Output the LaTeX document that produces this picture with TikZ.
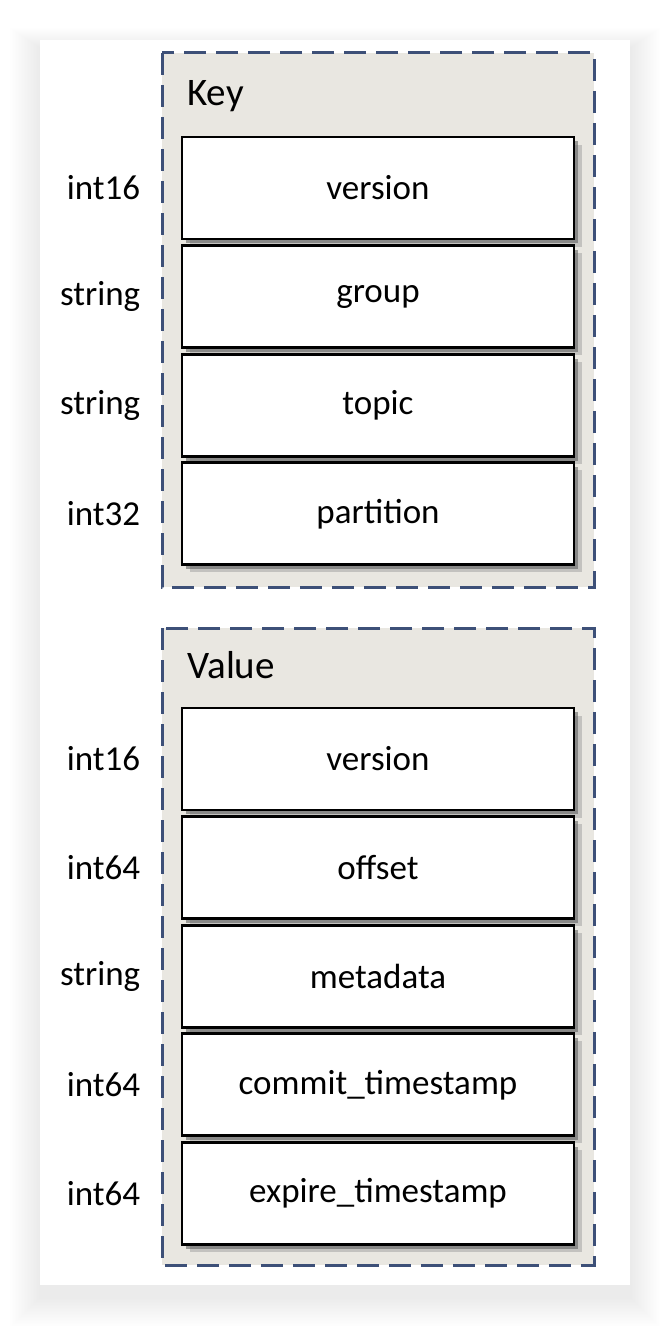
\documentclass[tikz,border=0pt]{standalone}
\usepackage{fontspec}
\setmainfont{Carlito}
\usetikzlibrary{positioning,shadows}

\definecolor{dashblue}{HTML}{3D5078}
\definecolor{groupfill}{HTML}{E9E7E1}

\tikzset{
	field/.style={draw=black, line width=1.4pt, fill=white, minimum width=196pt, minimum height=51pt,
		font=\fontsize{17.5}{20}\selectfont,
		drop shadow={shadow xshift=3.8pt, shadow yshift=-3.8pt, fill=black!45, opacity=0.4},
		drop shadow={shadow xshift=2.2pt, shadow yshift=-2.2pt, fill=black!65, opacity=0.55}},
	ftype/.style={inner sep=0pt, font=\fontsize{17.5}{20}\selectfont},
	groupbox/.style={draw=dashblue, line width=1.5pt, dash pattern=on 11pt off 5pt, fill=groupfill},
	grouptitle/.style={inner sep=0pt, anchor=base west, font=\fontsize{19.5}{22}\selectfont}
}

\begin{document}
\begin{tikzpicture}[x=0.5pt, y=-0.5pt, node distance=1.9pt]
		\useasboundingbox (0,0) rectangle (670,1326);
		% card with soft shadow
		\foreach \i in {1,...,20}
			\fill[black, opacity=0.005] (40-1.5*\i,40-\i+8) rectangle (630+1.5*\i,1285+1.5*\i+12);
		\fill[white] (40,40) rectangle (630,1285);
		
		% Key
		\draw[groupbox] (162,53) rectangle (594,587);
		\node[grouptitle] (keytitle) at (187,106) {Key};
		\node[field] (kver) at (378,188) {version};
		\node[field, below=of kver] (kgroup) {group};
		\node[field, below=of kgroup] (ktopic) {topic};
		\node[field, below=of ktopic] (kpart) {partition};
		\node[ftype, left=20pt of kver] (tkver) {int16};
		\node[ftype, left=20pt of kgroup] (tkgroup) {string};
		\node[ftype, left=20pt of ktopic] (tktopic) {string};
		\node[ftype, left=20pt of kpart] (tkpart) {int32};
		
		% Value
		\draw[groupbox] (162,628) rectangle (594,1265);
		\node[grouptitle] (valtitle) at (187,678) {Value};
		\node[field] (vver) at (378,759) {version};
		\node[field, below=of vver] (voffset) {offset};
		\node[field, below=of voffset] (vmeta) {metadata};
		\node[field, below=of vmeta] (vcommit) {commit\_timestamp};
		\node[field, below=of vcommit] (vexpire) {expire\_timestamp};
		\node[ftype, left=20pt of vver] (tvver) {int16};
		\node[ftype, left=20pt of voffset] (tvoffset) {int64};
		\node[ftype, left=20pt of vmeta] (tvmeta) {string};
		\node[ftype, left=20pt of vcommit] (tvcommit) {int64};
		\node[ftype, left=20pt of vexpire] (tvexpire) {int64};
	\end{tikzpicture}
\end{document}
